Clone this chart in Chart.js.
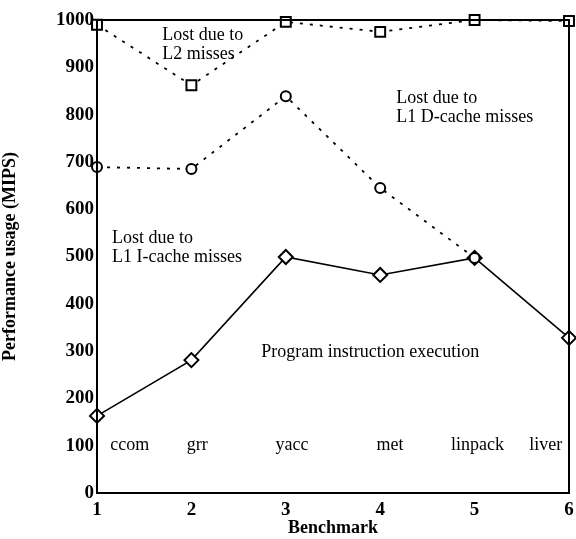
<!DOCTYPE html>
<html><head><meta charset="utf-8">
<script src="https://cdn.jsdelivr.net/npm/chart.js@4/dist/chart.umd.min.js"></script>
<style>html,body{margin:0;padding:0;background:#fff}#w{width:576px;height:539px}</style>
</head><body><div id="w"><canvas id="c" width="576" height="539"></canvas></div>
<script>
const benchmarkX = [1, 2, 3, 4, 5, 6];
const benchmarkNames = ["ccom", "grr", "yacc", "met", "linpack", "liver"];
const l2Line = [990, 862, 996, 975, 1000, 998];
const l1dLine = [689, 685, 839, 645, 497];
const execLine = [163, 281, 499, 461, 497, 328];
const yTicks = [0, 100, 200, 300, 400, 500, 600, 700, 800, 900, 1000];

const annotations = [
  {x: 1.69, y: 968, lines: ["Lost due to", "L2 misses"]},
  {x: 4.17, y: 835, lines: ["Lost due to", "L1 D-cache misses"]},
  {x: 1.16, y: 539, lines: ["Lost due to", "L1 I-cache misses"]},
  {x: 2.74, y: 298, lines: ["Program instruction execution"]}
];
const nameX = [1.14, 1.95, 2.89, 3.96, 4.75, 5.58];
const nameY = 100;

const toPts = arr => arr.map((v, i) => ({x: benchmarkX[i], y: v}));
const FONT = "'Liberation Serif', 'DejaVu Serif', serif";

const textPlugin = {
  id: 'txt',
  afterDatasetsDraw(chart) {
    const {ctx, scales: {x, y}, chartArea: a} = chart;
    ctx.save();
    ctx.fillStyle = '#000';
    ctx.font = '18px ' + FONT;
    ctx.textBaseline = 'middle';
    ctx.textAlign = 'left';
    annotations.forEach(an => {
      an.lines.forEach((t, i) => ctx.fillText(t, x.getPixelForValue(an.x), y.getPixelForValue(an.y) + i * 19));
    });
    ctx.beginPath(); ctx.rect(a.left, a.top, a.right - a.left, a.bottom - a.top); ctx.clip();
    benchmarkNames.forEach((n, i) => ctx.fillText(n, x.getPixelForValue(nameX[i]), y.getPixelForValue(nameY)));
    ctx.restore();
    ctx.save();
    ctx.strokeStyle = '#000'; ctx.lineWidth = 2;
    ctx.strokeRect(a.left, a.top, a.right - a.left, a.bottom - a.top);
    ctx.restore();
  }
};

new Chart(document.getElementById('c'), {
  type: 'line',
  data: {
    datasets: [
      {data: toPts(l2Line), borderColor: '#000', borderWidth: 1.8, borderDash: [3, 7], pointStyle: 'rect', pointRadius: 7, pointBorderWidth: 2, pointBackgroundColor: '#fff', pointBorderColor: '#000'},
      {data: toPts(l1dLine), borderColor: '#000', borderWidth: 1.8, borderDash: [3, 7], pointStyle: 'circle', pointRadius: 5, pointBorderWidth: 2, pointBackgroundColor: '#fff', pointBorderColor: '#000'},
      {data: toPts(execLine), borderColor: '#000', borderWidth: 1.6, pointStyle: 'rectRot', pointRadius: 7, pointBorderWidth: 2, pointBackgroundColor: '#fff', pointBorderColor: '#000'}
    ]
  },
  options: {
    responsive: false, animation: false,
    layout: {autoPadding: false, padding: {top: 20, right: 7, left: 0, bottom: 0}},
    plugins: {legend: {display: false}, tooltip: {enabled: false}},
    clip: false,
    scales: {
      x: {
        type: 'linear', min: 1, max: 6,
        grid: {display: false, drawTicks: false},
        border: {display: true, color: '#000', width: 2},
        afterBuildTicks: s => { s.ticks = benchmarkX.map(v => ({value: v})); },
        ticks: {color: '#000', font: {family: FONT, size: 19, weight: 'bold'}, padding: 6, callback: v => String(v)},
        title: {display: true, text: 'Benchmark', color: '#000', font: {family: FONT, size: 18, weight: 'bold'}, padding: {top: -4, bottom: 0}},
        afterFit: s => { s.height = 46; s.paddingRight = 0; s.paddingLeft = 0; }
      },
      y: {
        type: 'linear', min: 0, max: 1000,
        grid: {display: false, drawTicks: false},
        border: {display: true, color: '#000', width: 2},
        afterBuildTicks: s => { s.ticks = yTicks.map(v => ({value: v})); },
        ticks: {color: '#000', font: {family: FONT, size: 19, weight: 'bold'}, padding: 3, callback: v => String(v)},
        title: {display: true, text: 'Performance usage (MIPS)', color: '#000', font: {family: FONT, size: 18, weight: 'bold'}, padding: {top: 0, bottom: 0}},
        afterFit: s => { s.width = 97; s.paddingTop = 0; s.paddingBottom = 0; }
      }
    }
  },
  plugins: [textPlugin]
});
</script></body></html>
